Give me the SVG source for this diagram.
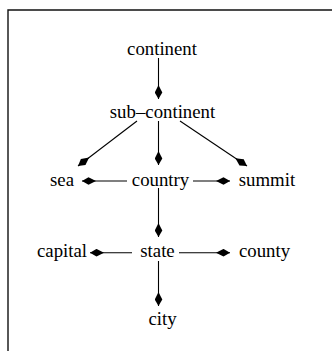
<svg xmlns="http://www.w3.org/2000/svg" width="332" height="351" viewBox="0 0 332 351">
<defs>
<style>
text{font-family:"Liberation Serif","Times New Roman",serif;font-size:18.8px;fill:#000;text-anchor:middle}
.e{stroke:#000;stroke-width:1.1;fill:none;marker-end:url(#ah)}
</style>
<marker id="ah" viewBox="0 -4 14 8" refX="14" refY="0" markerWidth="14" markerHeight="8" markerUnits="userSpaceOnUse" orient="auto">
<path d="M0,0 L7.5,-3.8 L14,0 L7.5,3.8 Z" fill="#000"/>
</marker>
</defs>
<rect width="332" height="351" fill="#fff"/>
<path d="M8,352 V10 H333" fill="none" stroke="#111" stroke-width="1.4"/>
<g id="connectors">
<line class="e" x1="158.5" y1="58" x2="158.5" y2="99"/>
<line class="e" x1="137" y1="121" x2="78" y2="166"/>
<line class="e" x1="158.5" y1="121" x2="158.5" y2="165"/>
<line class="e" x1="180" y1="121" x2="247" y2="166"/>
<line class="e" x1="127" y1="181" x2="82" y2="181"/>
<line class="e" x1="193" y1="181" x2="230" y2="181"/>
<line class="e" x1="158.5" y1="188" x2="158.5" y2="237"/>
<line class="e" x1="132" y1="252.7" x2="90" y2="252.7"/>
<line class="e" x1="179" y1="252.7" x2="230" y2="252.7"/>
<line class="e" x1="158.5" y1="261" x2="158.5" y2="306"/>
</g>
<g id="continent"><text x="162" y="55">continent</text></g>
<g id="sub-continent"><text x="162.5" y="118">sub–continent</text></g>
<g id="sea"><text x="62" y="186">sea</text></g>
<g id="country"><text x="160.5" y="186">country</text></g>
<g id="summit"><text x="267" y="186">summit</text></g>
<g id="capital"><text x="62" y="257">capital</text></g>
<g id="state"><text x="157.5" y="257">state</text></g>
<g id="county"><text x="264.5" y="257">county</text></g>
<g id="city"><text x="162.5" y="325">city</text></g>
</svg>
